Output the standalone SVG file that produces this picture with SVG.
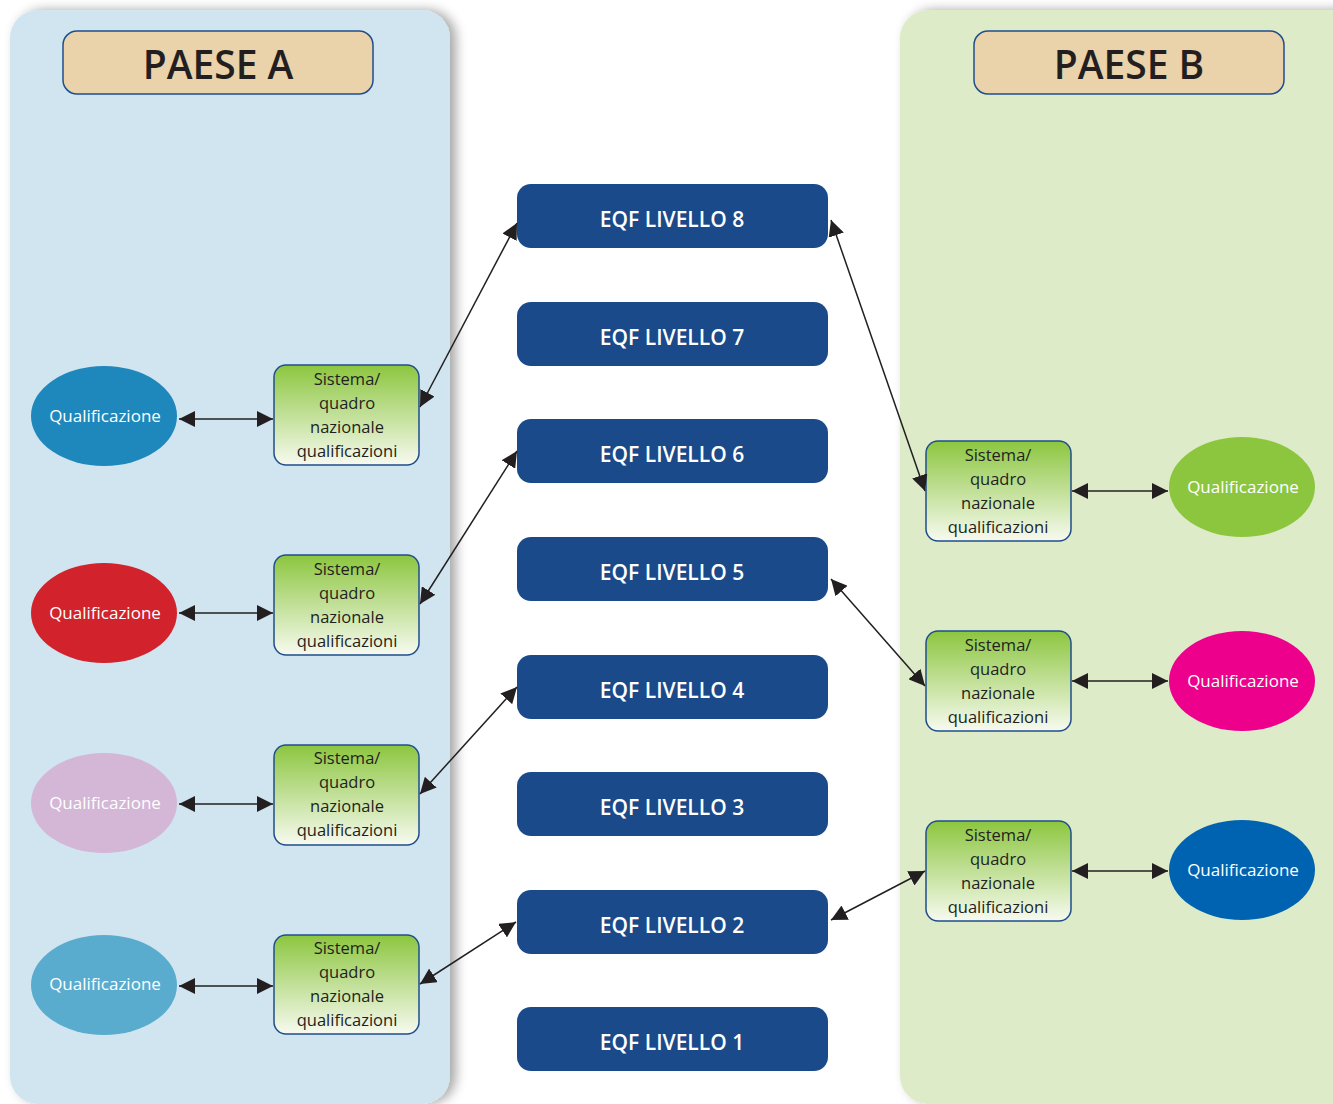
<svg xmlns="http://www.w3.org/2000/svg" width="1333" height="1104" viewBox="0 0 1333 1104">
<defs>
  <filter id="sh" x="-10%" y="-10%" width="130%" height="130%">
    <feGaussianBlur in="SourceAlpha" stdDeviation="6"/>
    <feOffset dx="6" dy="0"/>
    <feComponentTransfer><feFuncA type="linear" slope="0.35"/></feComponentTransfer>
    <feMerge><feMergeNode/><feMergeNode in="SourceGraphic"/></feMerge>
  </filter>
  <linearGradient id="gg" x1="0" y1="0" x2="0" y2="1">
    <stop offset="0" stop-color="#8cc63f"/>
    <stop offset="1" stop-color="#f7faf0"/>
  </linearGradient>
  <marker id="ah" viewBox="0 0 10 10" refX="10" refY="5" markerWidth="16" markerHeight="16" markerUnits="userSpaceOnUse" orient="auto-start-reverse">
    <path d="M0,0 L10,5 L0,10 z" fill="#231f20"/>
  </marker>
  <style>
    .title{font-family:"Open Sans","Noto Sans",sans-serif;font-weight:600;font-size:39px;fill:#231f20;text-anchor:middle}
    .hdr{fill:#ead2aa;stroke:#1f4e8c;stroke-width:1.5}
    .eqf{fill:#1a4a8a}
    .eqft{font-family:"Open Sans","Noto Sans",sans-serif;font-weight:600;font-size:21px;fill:#ffffff;text-anchor:middle}
    .sys{fill:url(#gg);stroke:#1f4e8c;stroke-width:1.5}
    .syst{font-family:"Open Sans","Noto Sans",sans-serif;font-size:16.5px;fill:#231f20;text-anchor:middle}
    .qt{font-family:"Open Sans","Noto Sans",sans-serif;font-size:17px;fill:#ffffff;text-anchor:middle}
    .c{stroke:#231f20;stroke-width:1.5;fill:none;marker-start:url(#ah);marker-end:url(#ah)}
  </style>
</defs>
<rect width="1333" height="1104" fill="#ffffff"/>
<g id="panelA"><rect x="10" y="10" width="440" height="1094" rx="28" fill="#d0e5f0" filter="url(#sh)"/></g>
<g id="panelB"><rect x="900" y="10" width="460" height="1094" rx="28" fill="#deebc9" filter="url(#sh)"/></g>

<g id="paeseA"><rect class="hdr" x="63" y="31" width="310" height="63" rx="14"/><text class="title" x="218" y="79">PAESE A</text></g>
<g id="paeseB"><rect class="hdr" x="974" y="31" width="310" height="63" rx="14"/><text class="title" x="1129" y="79">PAESE B</text></g>

<g id="eqf8"><rect class="eqf" x="517" y="184" width="311" height="64" rx="14"/><text class="eqft" x="672" y="227">EQF LIVELLO 8</text></g>
<g id="eqf7"><rect class="eqf" x="517" y="302" width="311" height="64" rx="14"/><text class="eqft" x="672" y="345">EQF LIVELLO 7</text></g>
<g id="eqf6"><rect class="eqf" x="517" y="419" width="311" height="64" rx="14"/><text class="eqft" x="672" y="462">EQF LIVELLO 6</text></g>
<g id="eqf5"><rect class="eqf" x="517" y="537" width="311" height="64" rx="14"/><text class="eqft" x="672" y="580">EQF LIVELLO 5</text></g>
<g id="eqf4"><rect class="eqf" x="517" y="655" width="311" height="64" rx="14"/><text class="eqft" x="672" y="698">EQF LIVELLO 4</text></g>
<g id="eqf3"><rect class="eqf" x="517" y="772" width="311" height="64" rx="14"/><text class="eqft" x="672" y="815">EQF LIVELLO 3</text></g>
<g id="eqf2"><rect class="eqf" x="517" y="890" width="311" height="64" rx="14"/><text class="eqft" x="672" y="933">EQF LIVELLO 2</text></g>
<g id="eqf1"><rect class="eqf" x="517" y="1007" width="311" height="64" rx="14"/><text class="eqft" x="672" y="1050">EQF LIVELLO 1</text></g>

<g id="qA1"><ellipse cx="104" cy="416" rx="73" ry="50" fill="#1e87bb"/><text class="qt" x="105" y="422">Qualificazione</text></g>
<g id="qA2"><ellipse cx="104" cy="613" rx="73" ry="50" fill="#d2222b"/><text class="qt" x="105" y="619">Qualificazione</text></g>
<g id="qA3"><ellipse cx="104" cy="803" rx="73" ry="50" fill="#d4b6d6"/><text class="qt" x="105" y="809">Qualificazione</text></g>
<g id="qA4"><ellipse cx="104" cy="985" rx="73" ry="50" fill="#5aaccf"/><text class="qt" x="105" y="990">Qualificazione</text></g>

<g id="qB1"><ellipse cx="1242" cy="487" rx="73" ry="50" fill="#8cc63f"/><text class="qt" x="1243" y="493">Qualificazione</text></g>
<g id="qB2"><ellipse cx="1242" cy="681" rx="73" ry="50" fill="#ec008c"/><text class="qt" x="1243" y="687">Qualificazione</text></g>
<g id="qB3"><ellipse cx="1242" cy="870" rx="73" ry="50" fill="#0063b1"/><text class="qt" x="1243" y="876">Qualificazione</text></g>

<g id="sA1"><rect class="sys" x="274" y="365" width="145" height="100" rx="12"/><text class="syst"><tspan x="347" y="385">Sistema/</tspan><tspan x="347" y="409">quadro</tspan><tspan x="347" y="433">nazionale</tspan><tspan x="347" y="457">qualificazioni</tspan></text></g>
<g id="sA2"><rect class="sys" x="274" y="555" width="145" height="100" rx="12"/><text class="syst"><tspan x="347" y="575">Sistema/</tspan><tspan x="347" y="599">quadro</tspan><tspan x="347" y="623">nazionale</tspan><tspan x="347" y="647">qualificazioni</tspan></text></g>
<g id="sA3"><rect class="sys" x="274" y="745" width="145" height="100" rx="12"/><text class="syst"><tspan x="347" y="764">Sistema/</tspan><tspan x="347" y="788">quadro</tspan><tspan x="347" y="812">nazionale</tspan><tspan x="347" y="836">qualificazioni</tspan></text></g>
<g id="sA4"><rect class="sys" x="274" y="935" width="145" height="99" rx="12"/><text class="syst"><tspan x="347" y="954">Sistema/</tspan><tspan x="347" y="978">quadro</tspan><tspan x="347" y="1002">nazionale</tspan><tspan x="347" y="1026">qualificazioni</tspan></text></g>

<g id="sB1"><rect class="sys" x="926" y="441" width="145" height="100" rx="12"/><text class="syst"><tspan x="998" y="461">Sistema/</tspan><tspan x="998" y="485">quadro</tspan><tspan x="998" y="509">nazionale</tspan><tspan x="998" y="533">qualificazioni</tspan></text></g>
<g id="sB2"><rect class="sys" x="926" y="631" width="145" height="100" rx="12"/><text class="syst"><tspan x="998" y="651">Sistema/</tspan><tspan x="998" y="675">quadro</tspan><tspan x="998" y="699">nazionale</tspan><tspan x="998" y="723">qualificazioni</tspan></text></g>
<g id="sB3"><rect class="sys" x="926" y="821" width="145" height="100" rx="12"/><text class="syst"><tspan x="998" y="841">Sistema/</tspan><tspan x="998" y="865">quadro</tspan><tspan x="998" y="889">nazionale</tspan><tspan x="998" y="913">qualificazioni</tspan></text></g>

<g id="connectors">
  <line class="c" x1="179" y1="419" x2="273" y2="419"/>
  <line class="c" x1="179" y1="613" x2="273" y2="613"/>
  <line class="c" x1="179" y1="804" x2="273" y2="804"/>
  <line class="c" x1="179" y1="986" x2="273" y2="986"/>
  <line class="c" x1="1072" y1="491" x2="1168" y2="491"/>
  <line class="c" x1="1072" y1="681" x2="1168" y2="681"/>
  <line class="c" x1="1072" y1="871" x2="1168" y2="871"/>
  <line class="c" x1="420" y1="407" x2="517" y2="223"/>
  <line class="c" x1="420" y1="604" x2="517" y2="451"/>
  <line class="c" x1="420" y1="794" x2="517" y2="687"/>
  <line class="c" x1="420" y1="984" x2="516" y2="922"/>
  <line class="c" x1="831" y1="220" x2="925" y2="491"/>
  <line class="c" x1="831" y1="579" x2="925" y2="686"/>
  <line class="c" x1="831" y1="920" x2="925" y2="871"/>
</g>
</svg>
